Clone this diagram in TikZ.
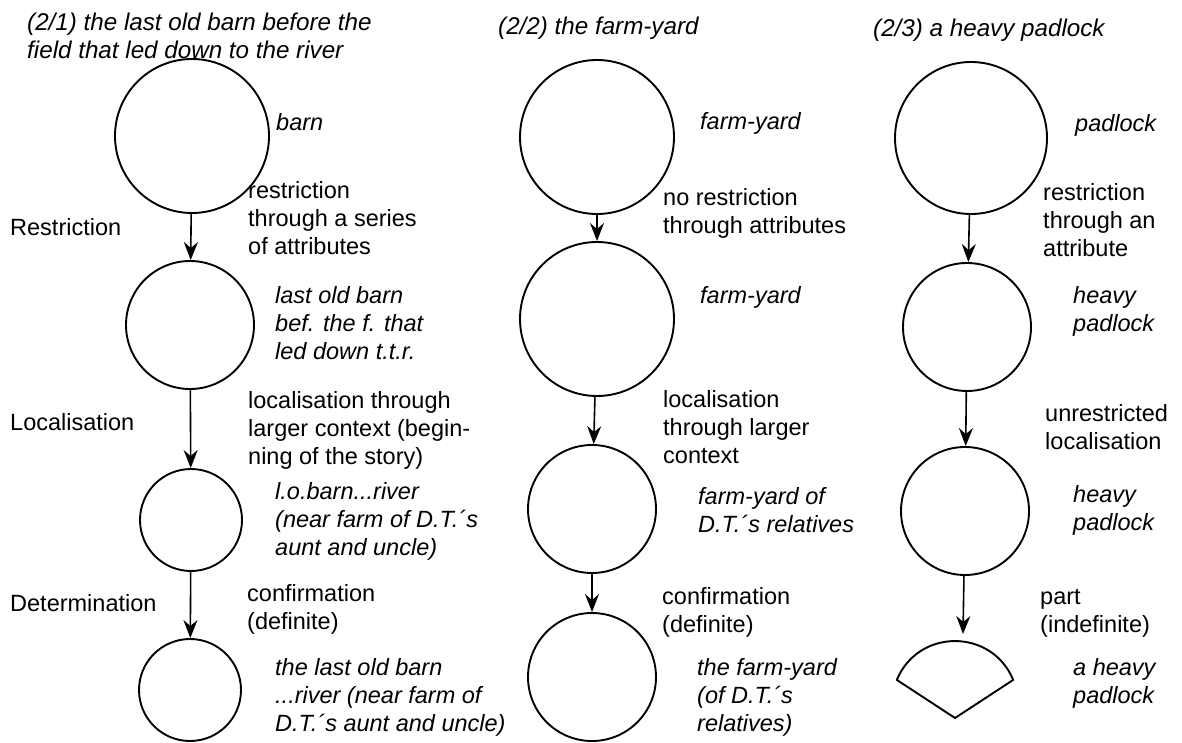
\documentclass[tikz,border=0pt]{standalone}
\usepackage{fontspec}
\setmainfont{Liberation Sans}
\usetikzlibrary{arrows.meta}
\tikzset{
	blob/.style = {draw, circle, line width=1.9pt, inner sep=0pt},
	link/.style = {line width=1.6pt, -{Stealth[length=18pt,width=14pt,inset=6pt]}},
	txt/.style = {anchor=west, align=left, inner sep=0pt, font=\fontsize{23.5}{28}\selectfont},
	itxt/.style = {txt, font=\fontsize{23.5}{28}\selectfont\itshape},
	head/.style = {txt, font=\fontsize{24.2}{28}\selectfont\itshape}
}

\begin{document}
\begin{tikzpicture}[x=1pt, y=-1pt]
	\useasboundingbox (0,0) rectangle (1182,743);
	\foreach \nm/\x/\y/\r in {a1/192/136/77, a2/190/325/64, a3/191/520/51, a4/190/690/51, b1/597/137/77, b2/597/319/77, b3/592/509/64, b4/592/677/64, c1/971/138/76, c2/967/327/64, c3/965/511/64}
	{
		\node[blob, minimum size=\r*2pt] (\nm) at (\x,\y) {};
	}
	\draw[line width=1.9pt, line join=round] (896.8,679.9) .. controls (918.3,628.1) and (991.7,628.1) .. (1013.2,679.9) -- (955,718) -- cycle;
	\coordinate (c4) at (963,634);
	\foreach \p/\q in {a1/a2, a2/a3, a3/a4, b1/b2, b2/b3, b3/b4, c1/c2, c2/c3, c3/c4}
	{
		\draw[link] (\p) -- (\q);
	}

	\node[head] (head1) at (27,36) {(2/1) the last old barn before the\\field that led down to the river};
	\node[head] (head2) at (498,28) {(2/2) the farm-yard};
	\node[head] (head3) at (873,30) {(2/3) a heavy padlock};

	\node[txt] (step1) at (10,227) {Restriction};
	\node[txt] (step2) at (10,422) {Localisation};
	\node[txt] (step3) at (10,603) {Determination};

	\node[itxt] (a1lbl) at (276,122) {barn};
	\node[txt] (a12) at (248,218) {restriction\\through a series\\of attributes};
	\node[itxt] (a2lbl) at (275,323) {last old barn\\bef. the f. that\\led down t.t.r.};
	\node[txt] (a23) at (248,430) {localisation through\\larger context (begin-\\ning of the story)};
	\node[itxt] (a3lbl) at (275,521) {l.o.barn...river\\(near farm of D.T.´s\\aunt and uncle)};
	\node[txt] (a34) at (247,609) {confirmation\\(definite)};
	\node[itxt] (a4lbl) at (275,697) {the last old barn\\...river (near farm of\\D.T.´s aunt and uncle)};

	\node[itxt] (b1lbl) at (700,123) {farm-yard};
	\node[txt] (b12) at (663,213) {no restriction\\through attributes};
	\node[itxt] (b2lbl) at (700,297) {farm-yard};
	\node[txt] (b23) at (663,427) {localisation\\through larger\\context};
	\node[itxt] (b3lbl) at (698,510) {farm-yard of\\D.T.´s relatives};
	\node[txt] (b34) at (662,612) {confirmation\\(definite)};
	\node[itxt] (b4lbl) at (697,697) {the farm-yard\\(of D.T.´s\\relatives)};

	\node[itxt] (c1lbl) at (1075,125) {padlock};
	\node[txt] (c12) at (1043,220) {restriction\\through an\\attribute};
	\node[itxt] (c2lbl) at (1073,311) {heavy\\padlock};
	\node[txt] (c23) at (1045,427) {unrestricted\\localisation};
	\node[itxt] (c3lbl) at (1073,510) {heavy\\padlock};
	\node[txt] (c34) at (1040,613) {part\\(indefinite)};
	\node[itxt] (c4lbl) at (1073,683) {a heavy\\padlock};
\end{tikzpicture}
\end{document}
